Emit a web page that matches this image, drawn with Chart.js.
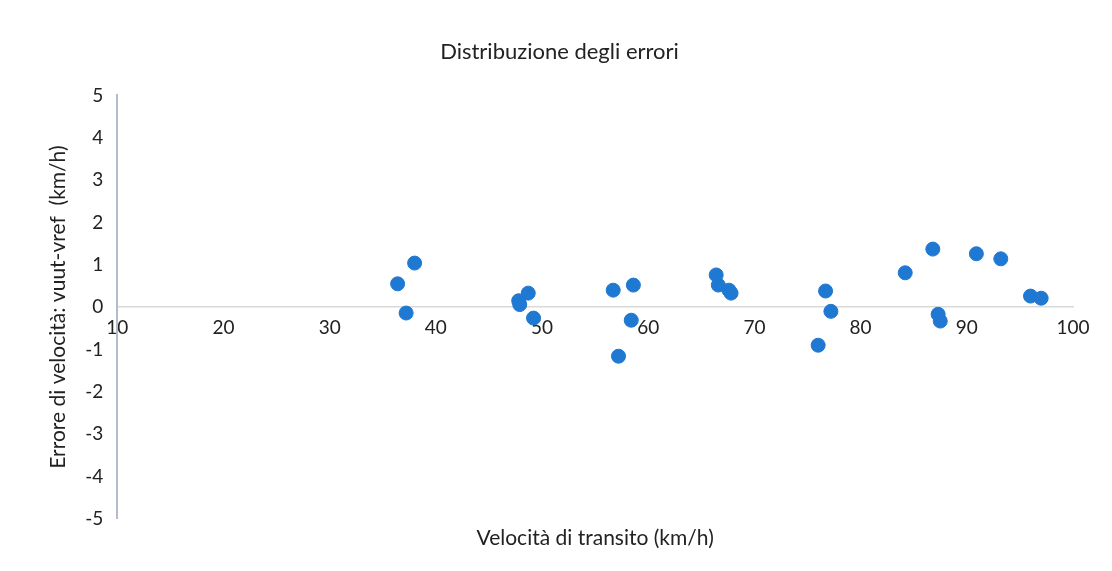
<!DOCTYPE html>
<html>
<head>
<meta charset="utf-8">
<script src="https://cdn.jsdelivr.net/npm/chart.js@4/dist/chart.umd.min.js"></script>
<style>
html,body{margin:0;padding:0;background:#fff;}
#wrap{width:1112px;height:571px;}
</style>
</head>
<body>
<div id="wrap"><canvas id="c" width="1112" height="571"></canvas></div>
<script>
const chartTitle = "Distribuzione degli errori";
const xTitle = "Velocità di transito (km/h)";
const yTitle = "Errore di velocità: vuut-vref  (km/h)";
const speed = [38.0, 36.4, 37.2, 47.8, 47.9, 48.7, 49.2, 56.7, 58.6, 58.4, 57.2, 66.4, 66.6, 67.6, 67.8, 76.7, 77.2, 76.0, 84.2, 86.8, 90.9, 93.2, 87.3, 87.5, 96.0, 97.0];
const errorVals = [1.04, 0.55, -0.14, 0.15, 0.06, 0.33, -0.26, 0.40, 0.52, -0.31, -1.16, 0.76, 0.52, 0.40, 0.33, 0.38, -0.10, -0.90, 0.81, 1.37, 1.26, 1.14, -0.17, -0.33, 0.26, 0.21];
const xRange = [10, 100];
const yRange = [-5, 5];

const points = speed.map((v, i) => ({x: v, y: errorVals[i]}));
const font = "Lato, 'Open Sans', sans-serif";

new Chart(document.getElementById('c'), {
  type: 'scatter',
  data: {
    datasets: [{
      data: points,
      backgroundColor: '#1F78D1',
      borderColor: '#1F78D1',
      pointRadius: 7,
      pointHoverRadius: 7
    }]
  },
  options: {
    responsive: false,
    animation: false,
    devicePixelRatio: 1,
    layout: {padding: {left: 46, right: 39, top: 39, bottom: 20}},
    plugins: {
      legend: {display: false},
      tooltip: {enabled: false},
      title: {
        display: true,
        text: chartTitle,
        color: '#222',
        font: {family: font, size: 22, weight: 'normal'},
        padding: {top: 0, bottom: 30}
      }
    },
    scales: {
      x: {
        type: 'linear',
        position: {y: 0},
        min: xRange[0], max: xRange[1],
        ticks: {stepSize: 10, color: '#222', font: {family: font, size: 19}, padding: 9},
        grid: {display: false, drawTicks: false},
        border: {display: true, color: '#d9d9d9', width: 1.5}
      },
      x2: {
        type: 'linear',
        position: 'bottom',
        min: xRange[0], max: xRange[1],
        ticks: {display: false},
        grid: {display: false, drawTicks: false},
        border: {display: false},
        title: {display: true, text: xTitle, color: '#222', font: {family: font, size: 21}, padding: {top: 7, bottom: 0}}
      },
      y: {
        type: 'linear',
        min: yRange[0], max: yRange[1],
        ticks: {stepSize: 1, color: '#222', font: {family: font, size: 19}, padding: 14},
        grid: {display: false, drawTicks: false},
        border: {display: true, color: '#b4bccb', width: 2},
        title: {display: true, text: yTitle, color: '#222', font: {family: font, size: 21}, padding: {top: 0, bottom: 0}}
      }
    }
  }
});
</script>
</body>
</html>
